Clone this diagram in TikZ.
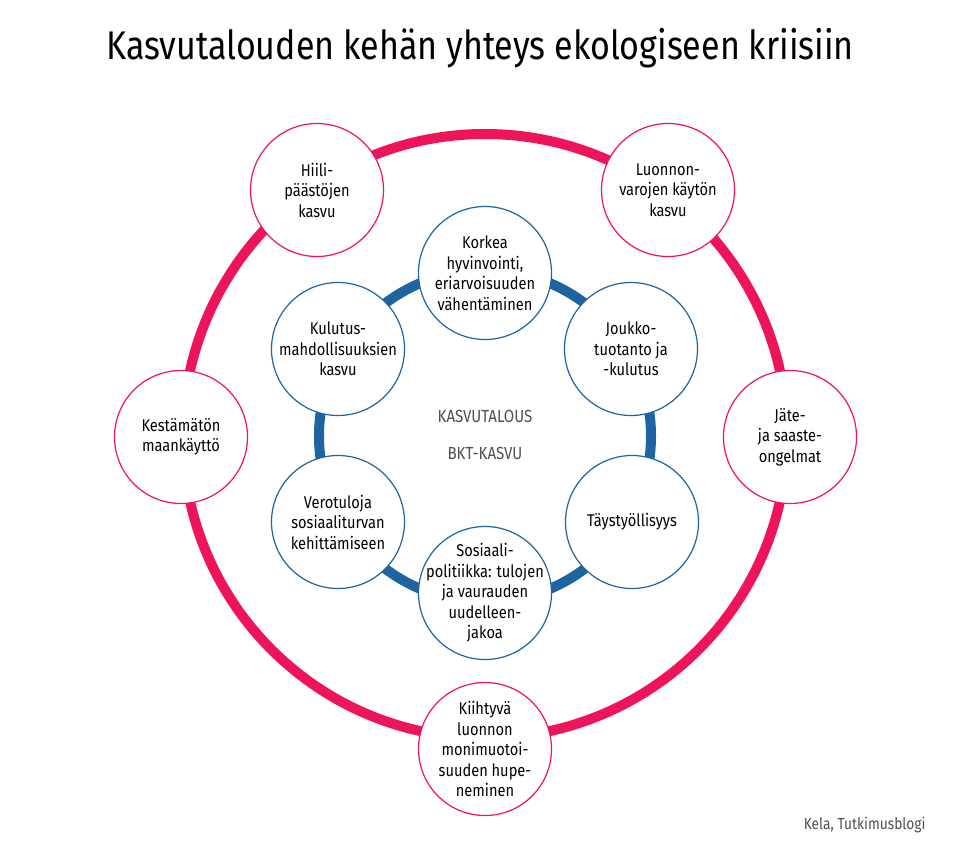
\documentclass[tikz,border=0pt]{standalone}
\usepackage{fontspec}
\setmainfont{Fira Sans}[FakeStretch=0.86]
\newfontfamily\otsikkofont{Fira Sans}[FakeStretch=0.85]
\usepackage{tikz}
\definecolor{kelared}{RGB}{238,20,90}
\definecolor{kelablue}{RGB}{30,100,160}
\definecolor{harmaa}{RGB}{80,80,80}

\begin{document}
\begin{tikzpicture}[x=1pt,y=-1pt,
    pallo/.style={circle,fill=white,line width=1.2pt,minimum size=133pt,inner sep=-15pt,
      align=center,font=\fontsize{17}{20.5}\selectfont},
    ulko/.style={pallo,draw=kelared},
    sisa/.style={pallo,draw=kelablue}]
\useasboundingbox[fill=white] (0,0) rectangle (960,850);
\node (otsikko) at (480,48) {\otsikkofont\fontsize{40}{44}\selectfont Kasvutalouden kehän yhteys ekologiseen kriisiin};
% renkaat
\draw[kelared,line width=10pt] (485,436) circle (302);
\draw[kelablue,line width=10pt] (485,436) circle (166);
% ulkokehä
\node[ulko] (hiili) at (317,190) {Hiili-\\päästöjen\\kasvu};
\node[ulko] (luonnon) at (668,190) {Luonnon-\\varojen käytön\\kasvu};
\node[ulko] (maa) at (181,437) {Kestämätön\\maankäyttö};
\node[ulko] (jate) at (790,437) {Jäte-\\ja saaste-\\ongelmat};
\node[ulko] (kato) at (485,749) {Kiihtyvä\\luonnon\\monimuotoi-\\suuden hupe-\\neminen};
% sisäkehä
\node[sisa] (korkea) at (485,273) {Korkea\\hyvinvointi,\\eriarvoisuuden\\vähentäminen};
\node[sisa] (joukko) at (631,349) {Joukko-\\tuotanto ja\\-kulutus};
\node[sisa] (tays) at (632,522) {Täystyöllisyys};
\node[sisa] (sospol) at (485,593) {Sosiaali-\\politiikka: tulojen\\ja vaurauden\\uudelleen-\\jakoa};
\node[sisa] (vero) at (338,522) {Verotuloja\\sosiaaliturvan\\kehittämiseen};
\node[sisa] (kulutus) at (338,349) {Kulutus-\\mahdollisuuksien\\kasvu};
% keskellä
\node[harmaa,font=\fontsize{17.5}{21}\selectfont] (kasvu) at (485,416) {KASVUTALOUS};
\node[harmaa,font=\fontsize{17.5}{21}\selectfont] (bkt) at (485,453) {BKT-KASVU};
\node[harmaa,font=\fontsize{16}{18}\selectfont,anchor=east] (lahde) at (929,825) {Kela, Tutkimusblogi};
\end{tikzpicture}
\end{document}
